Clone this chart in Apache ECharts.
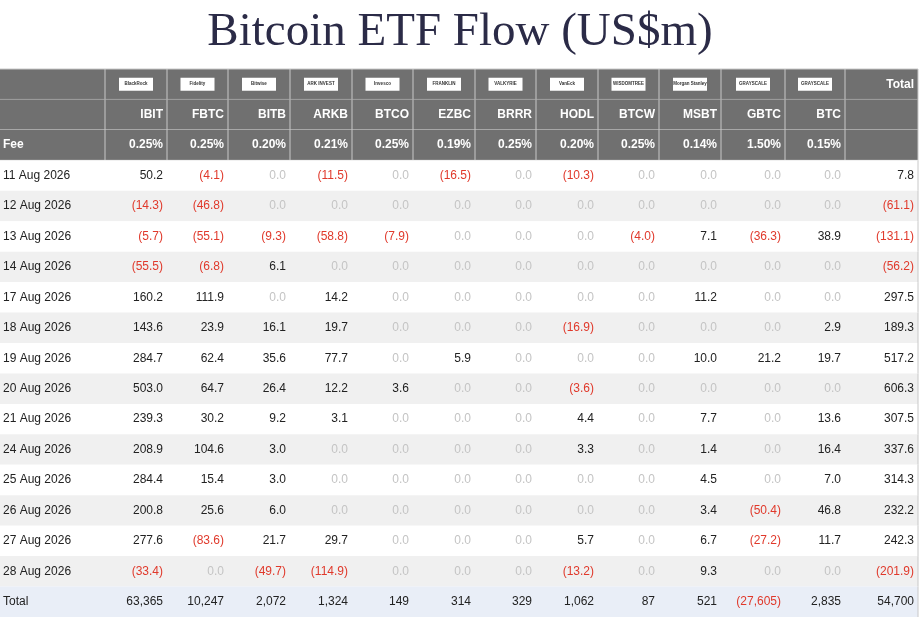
<!DOCTYPE html>
<html><head><meta charset="utf-8">
<script src="https://cdn.jsdelivr.net/npm/echarts@6/dist/echarts.min.js"></script>
<style>html,body{margin:0;padding:0;background:#fff}#c{width:920px;height:618px}</style>
</head><body><div id="c"></div>
<script>
const tickers = ['IBIT','FBTC','BITB','ARKB','BTCO','EZBC','BRRR','HODL','BTCW','MSBT','GBTC','BTC'];
const issuers = ['BlackRock','Fidelity','Bitwise','ARK INVEST','Invesco','FRANKLIN','VALKYRIE','VanEck','WISDOMTREE','Morgan Stanley','GRAYSCALE','GRAYSCALE'];
const fees = ['0.25%','0.25%','0.20%','0.21%','0.25%','0.19%','0.25%','0.20%','0.25%','0.14%','1.50%','0.15%'];
const dates = ['11 Aug 2026','12 Aug 2026','13 Aug 2026','14 Aug 2026','17 Aug 2026','18 Aug 2026','19 Aug 2026','20 Aug 2026','21 Aug 2026','24 Aug 2026','25 Aug 2026','26 Aug 2026','27 Aug 2026','28 Aug 2026'];
const flows = [
 [50.2,-4.1,0,-11.5,0,-16.5,0,-10.3,0,0,0,0],
 [-14.3,-46.8,0,0,0,0,0,0,0,0,0,0],
 [-5.7,-55.1,-9.3,-58.8,-7.9,0,0,0,-4.0,7.1,-36.3,38.9],
 [-55.5,-6.8,6.1,0,0,0,0,0,0,0,0,0],
 [160.2,111.9,0,14.2,0,0,0,0,0,11.2,0,0],
 [143.6,23.9,16.1,19.7,0,0,0,-16.9,0,0,0,2.9],
 [284.7,62.4,35.6,77.7,0,5.9,0,0,0,10.0,21.2,19.7],
 [503.0,64.7,26.4,12.2,3.6,0,0,-3.6,0,0,0,0],
 [239.3,30.2,9.2,3.1,0,0,0,4.4,0,7.7,0,13.6],
 [208.9,104.6,3.0,0,0,0,0,3.3,0,1.4,0,16.4],
 [284.4,15.4,3.0,0,0,0,0,0,0,4.5,0,7.0],
 [200.8,25.6,6.0,0,0,0,0,0,0,3.4,-50.4,46.8],
 [277.6,-83.6,21.7,29.7,0,0,0,5.7,0,6.7,-27.2,11.7],
 [-33.4,0,-49.7,-114.9,0,0,0,-13.2,0,9.3,0,0]
];
const dailyTotals = [7.8,-61.1,-131.1,-56.2,297.5,189.3,517.2,606.3,307.5,337.6,314.3,232.2,242.3,-201.9];
const fundTotals = [63365,10247,2072,1324,149,314,329,1062,87,521,-27605,2835];
const grandTotal = 54700;

const colEdges = [0,105,167,228,290,352,413,475,536,598,659,721,785,845,918];
const NROWS = 18;
const RED = '#e0392b';

function fmt(v, dec){
  const s = Math.abs(v).toLocaleString('en-US',{minimumFractionDigits:dec,maximumFractionDigits:dec});
  return v < 0 ? '(' + s + ')' : s;
}
function col(v, zeroGrey){ return v < 0 ? RED : (v === 0 && zeroGrey ? '#c4c4c4' : '#222'); }

const cells = [];
const rowsBg = [];
for (let r=0;r<3;r++) rowsBg.push([r,'#707070']);
for (let i=0;i<dates.length;i++) rowsBg.push([3+i, i%2===1 ? '#f0f0f0' : '#ffffff']);
rowsBg.push([17,'#e9eef7']);

issuers.forEach((t,i)=>cells.push([i+1,0,t,'#222',0,'logo']));
cells.push([13,0,'Total','#fff',1,'right']);
tickers.forEach((t,i)=>cells.push([i+1,1,t,'#fff',1,'right']));
cells.push([0,2,'Fee','#fff',1,'left']);
fees.forEach((t,i)=>cells.push([i+1,2,t,'#fff',1,'right']));
dates.forEach((d,i)=>{
  const r = 3+i;
  cells.push([0,r,d,'#222',0,'left']);
  flows[i].forEach((v,j)=>cells.push([j+1,r,fmt(v,1),col(v,true),0,'right']));
  cells.push([13,r,fmt(dailyTotals[i],1),col(dailyTotals[i],true),0,'right']);
});
cells.push([0,17,'Total','#222',0,'left']);
fundTotals.forEach((v,j)=>cells.push([j+1,17,fmt(v,0),col(v,false),0,'right']));
cells.push([13,17,fmt(grandTotal,0),col(grandTotal,false),0,'right']);

const chart = echarts.init(document.getElementById('c'));
chart.setOption({
  animation:false,
  title:{text:'Bitcoin ETF Flow (US$m)',left:'center',top:4,textStyle:{fontFamily:'Liberation Serif',fontSize:47,fontWeight:'normal',color:'#2b2b47'}},
  grid:{left:0,right:2,top:69,bottom:1},
  xAxis:{type:'value',min:0,max:918,show:false},
  yAxis:{type:'value',min:0,max:NROWS,inverse:true,show:false},
  series:[
    {type:'custom',data:rowsBg,renderItem:(p,api)=>{
      const r=api.value(0);
      const a=api.coord([0,r]), b=api.coord([918,r+1]);
      const ch=[{type:'rect',shape:{x:a[0],y:a[1],width:b[0]-a[0],height:b[1]-a[1]},style:{fill:rowsBg[p.dataIndex][1]}}];
      if(r<3){
        for(let k=1;k<colEdges.length;k++){
          const x=api.coord([colEdges[k],r])[0];
          ch.push({type:'line',shape:{x1:x,y1:a[1],x2:x,y2:b[1]},style:{stroke:'#c8c8c8',lineWidth:1}});
        }
        ch.push({type:'line',shape:{x1:a[0],y1:b[1],x2:b[0],y2:b[1]},style:{stroke:'#c8c8c8',lineWidth:1}});
        if(r===0) ch.push({type:'line',shape:{x1:a[0],y1:a[1],x2:b[0],y2:a[1]},style:{stroke:'#c8c8c8',lineWidth:1}});
      } else {
        ch.push({type:'line',shape:{x1:b[0],y1:a[1],x2:b[0],y2:b[1]},style:{stroke:'#c8c8c8',lineWidth:1}});
      }
      return {type:'group',children:ch};
    }},
    {type:'custom',data:cells.map(c=>[c[0],c[1]]),renderItem:(p,api)=>{
      const c=cells[p.dataIndex];
      const a=api.coord([colEdges[c[0]],c[1]]), b=api.coord([colEdges[c[0]+1],c[1]+1]);
      const cy=(a[1]+b[1])/2;
      if(c[5]==='logo'){
        const w=34,h=13,cx=(a[0]+b[0])/2;
        return {type:'group',children:[
          {type:'rect',shape:{x:cx-w/2,y:cy-h/2,width:w,height:h},style:{fill:'#fff'}},
          {type:'text',style:{x:cx,y:cy,text:c[2],fill:'#333',font:'bold 4.5px "Liberation Sans"',align:'center',verticalAlign:'middle'}}
        ]};
      }
      const left=c[5]==='left';
      return {type:'text',style:{x:left?a[0]+3:b[0]-4,y:cy,text:c[2],fill:c[3],
        font:(c[4]?'bold ':'')+'12px "Liberation Sans"',align:left?'left':'right',verticalAlign:'middle'}};
    }}
  ]
});
</script></body></html>
